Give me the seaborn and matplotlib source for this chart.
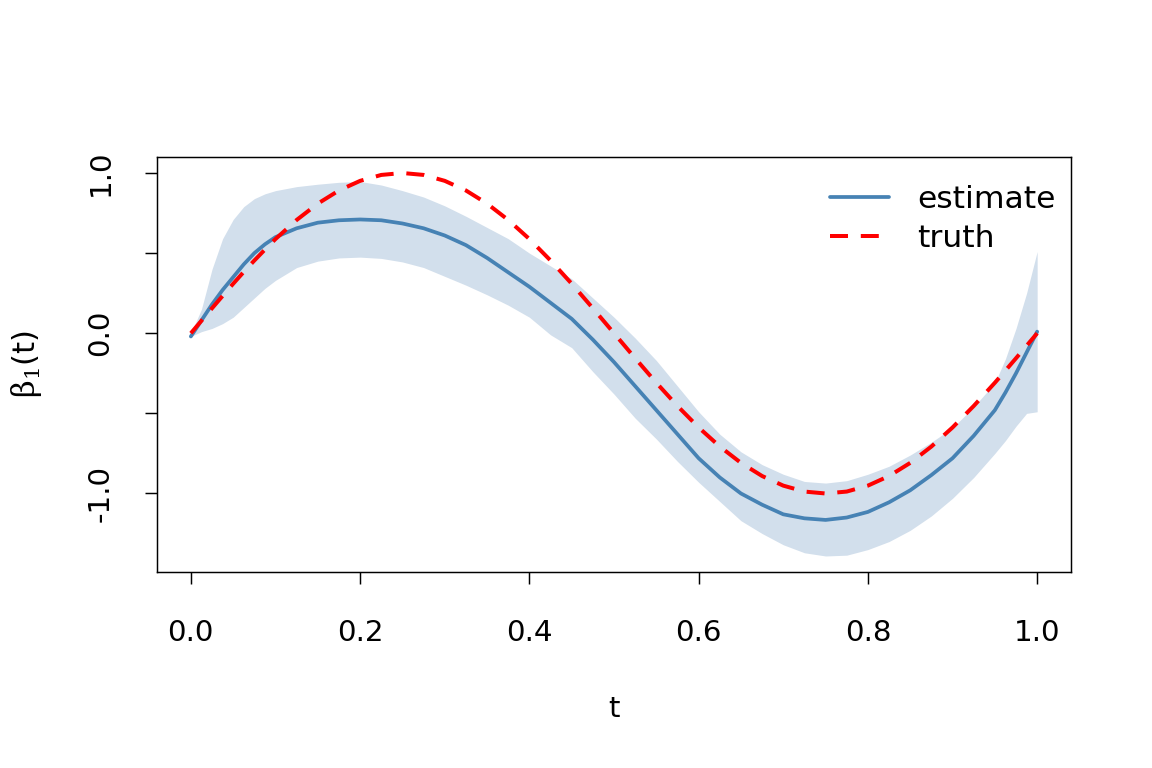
import numpy as np
import pandas as pd
import matplotlib
matplotlib.use("Agg")
import matplotlib.pyplot as plt
import seaborn as sns

# valores
t = [0.0, 0.0125, 0.025, 0.0375, 0.05, 0.0625, 0.075, 0.0875, 0.1, 0.125, 0.15, 0.175, 0.2, 0.225,
     0.25, 0.275, 0.3, 0.325, 0.35, 0.375, 0.4, 0.425, 0.45, 0.475,
     0.5, 0.525, 0.55, 0.575, 0.6, 0.625, 0.65, 0.675, 0.7, 0.725,
     0.75, 0.775, 0.8, 0.825, 0.85, 0.875, 0.9, 0.925, 0.95, 0.9625, 0.975, 0.9875, 1.0]

estimate = [-0.02, 0.08, 0.18, 0.27, 0.35, 0.43, 0.50, 0.555, 0.60, 0.655, 0.69, 0.705, 0.71, 0.705,
            0.685, 0.655, 0.61, 0.55, 0.47, 0.38, 0.29, 0.19, 0.09, -0.04,
            -0.18, -0.33, -0.48, -0.63, -0.78, -0.90, -1.0, -1.07, -1.13, -1.155,
            -1.165, -1.15, -1.115, -1.055, -0.98, -0.885, -0.78, -0.64, -0.48, -0.37, -0.25, -0.12, 0.01]

truth = [0.0, 0.078, 0.156, 0.233, 0.309, 0.383, 0.454, 0.522, 0.588, 0.707, 0.809, 0.891, 0.951, 0.988,
         1.0, 0.988, 0.951, 0.891, 0.809, 0.707, 0.588, 0.454, 0.309, 0.156,
         0.0, -0.156, -0.309, -0.454, -0.588, -0.707, -0.809, -0.891, -0.951, -0.988,
         -1.0, -0.988, -0.951, -0.891, -0.809, -0.707, -0.588, -0.454, -0.309, -0.233, -0.156, -0.078, 0.0]

upper = [0.0, 0.15, 0.40, 0.59, 0.71, 0.79, 0.84, 0.87, 0.89, 0.915, 0.93, 0.942, 0.947, 0.925,
         0.89, 0.85, 0.795, 0.73, 0.66, 0.59, 0.50, 0.42, 0.34, 0.22,
         0.10, -0.03, -0.17, -0.33, -0.49, -0.63, -0.74, -0.82, -0.88, -0.925,
         -0.935, -0.92, -0.88, -0.83, -0.76, -0.68, -0.59, -0.46, -0.31, -0.16, 0.03, 0.25, 0.51]

lower = [-0.02, 0.01, 0.03, 0.06, 0.10, 0.16, 0.22, 0.28, 0.33, 0.41, 0.45, 0.47, 0.475, 0.467,
         0.445, 0.41, 0.355, 0.30, 0.24, 0.175, 0.10, -0.01, -0.09, -0.24,
         -0.38, -0.53, -0.66, -0.80, -0.93, -1.05, -1.17, -1.25, -1.32, -1.37,
         -1.39, -1.385, -1.35, -1.30, -1.23, -1.14, -1.03, -0.90, -0.75, -0.67, -0.58, -0.50, -0.49]

sns.set_style("ticks")
plt.rcParams['font.family'] = ['DejaVu Sans']
plt.rcParams['mathtext.fontset'] = 'dejavuserif'
for k in ["text.color", "axes.labelcolor", "xtick.color", "ytick.color", "axes.edgecolor"]:
    plt.rcParams[k] = "black"
fs = 22

df = pd.DataFrame({"t": t, "estimate": estimate, "truth": truth})

fig = plt.figure(figsize=(12, 8), dpi=96)
ax = fig.add_axes([0.1363, 0.2552, 0.7934, 0.5404])

ax.fill_between(t, lower, upper, color="#d2dfec", linewidth=0)
sns.lineplot(data=df, x="t", y="estimate", ax=ax, color="#4682B4", linewidth=2.8, label="estimate")
sns.lineplot(data=df, x="t", y="truth", ax=ax, color="red", linewidth=3.0,
             linestyle=(0, (4.5, 3.2)), label="truth")

ax.set_xlim(-0.04, 1.04)
ax.set_ylim(-1.49, 1.1)
ax.set_xticks([0.0, 0.2, 0.4, 0.6, 0.8, 1.0])
ax.set_xticklabels(["0.0", "0.2", "0.4", "0.6", "0.8", "1.0"], fontsize=fs)
ax.set_yticks([-1.0, -0.5, 0.0, 0.5, 1.0])
ax.set_yticklabels(["-1.0", "", "0.0", "", "1.0"], fontsize=fs, rotation=90, va="center")
ax.tick_params(axis="x", direction="out", length=9, width=1.1, pad=26)
ax.tick_params(axis="y", direction="out", length=9, width=1.1, pad=23)
for s in ax.spines.values():
    s.set_linewidth(1.1)

ax.set_xlabel("t", fontsize=fs, labelpad=36)
ax.set_ylabel(r"$\mathrm{β}_1$(t)", fontsize=23, labelpad=32)

ax.legend(loc="upper right", bbox_to_anchor=(0.997, 0.962), frameon=False, fontsize=23.5,
          handlelength=1.9, handletextpad=0.9, labelspacing=0.3, borderaxespad=0)

fig.savefig("out.png", dpi=96)
